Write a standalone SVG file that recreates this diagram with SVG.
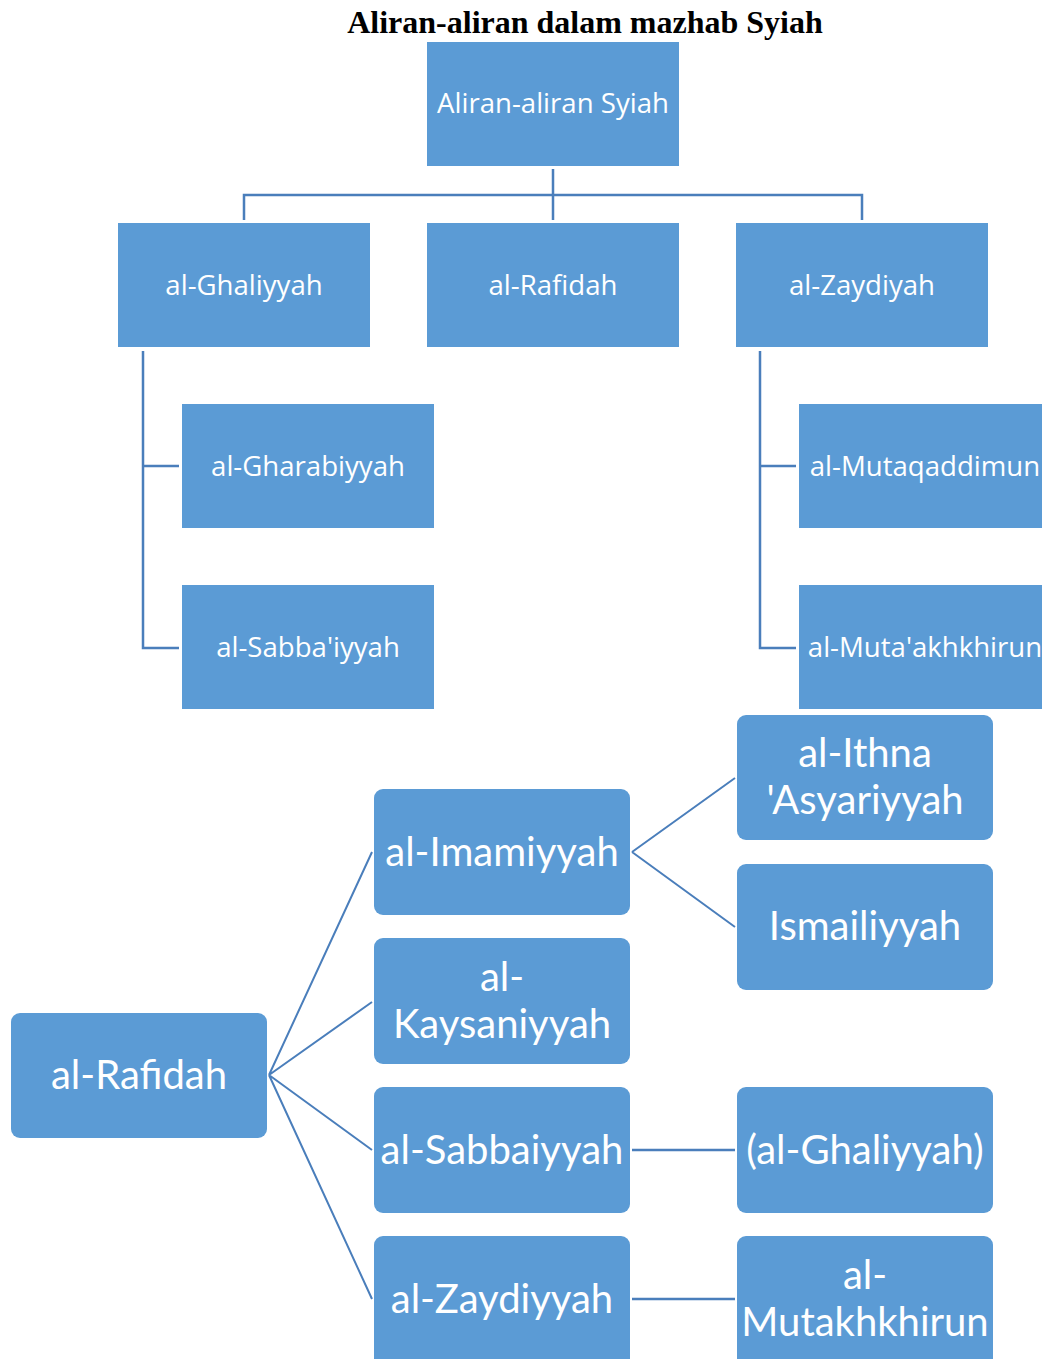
<svg xmlns="http://www.w3.org/2000/svg" width="1042" height="1359" viewBox="0 0 1042 1359">
<style>
.box{fill:#5B9BD5;}
.t1{font-family:"Open Sans",Lato,sans-serif;font-size:27.6px;fill:#fff;text-anchor:middle;}
.t2{font-family:Lato,"Open Sans",sans-serif;font-size:40px;fill:#fff;text-anchor:middle;}
.c{stroke:#4A7EBB;stroke-width:2.5;fill:none;}
.c2{stroke:#4A7EBB;stroke-width:2;fill:none;}
.title{font-family:"Liberation Serif",serif;font-weight:bold;font-size:32px;fill:#000;text-anchor:middle;}
</style>
<rect width="1042" height="1359" fill="#fff"/>
<text class="title" x="585" y="33">Aliran-aliran dalam mazhab Syiah</text>
<g id="connectors">
<path class="c" d="M553,169 V220 M244,220 V195 H862 V220"/>
<path class="c" d="M143,351 V648 H179 M143,466 H179"/>
<path class="c" d="M760,351 V648 H796 M760,466 H796"/>
<path class="c2" d="M269,1075 L372,852 M269,1075 L372,1002 M269,1075 L372,1150 M269,1075 L372,1299"/>
<path class="c2" d="M632,852 L735,778 M632,852 L735,927"/>
<path class="c" d="M632,1150 H735 M632,1299 H735"/>
</g>
<g id="n-root"><rect class="box" x="427" y="42" width="252" height="124"/><text class="t1" x="553" y="113">Aliran-aliran Syiah</text></g>
<g id="n-ghaliyyah"><rect class="box" x="118" y="223" width="252" height="124"/><text class="t1" x="244" y="295">al-Ghaliyyah</text></g>
<g id="n-rafidah"><rect class="box" x="427" y="223" width="252" height="124"/><text class="t1" x="553" y="295">al-Rafidah</text></g>
<g id="n-zaydiyah"><rect class="box" x="736" y="223" width="252" height="124"/><text class="t1" x="862" y="295">al-Zaydiyah</text></g>
<g id="n-gharabiyyah"><rect class="box" x="182" y="404" width="252" height="124"/><text class="t1" x="308" y="476">al-Gharabiyyah</text></g>
<g id="n-sabbaiyyah1"><rect class="box" x="182" y="585" width="252" height="124"/><text class="t1" x="308" y="657">al-Sabba'iyyah</text></g>
<g id="n-mutaqaddimun"><rect class="box" x="799" y="404" width="252" height="124"/><text class="t1" x="925" y="476">al-Mutaqaddimun</text></g>
<g id="n-mutaakhkhirun"><rect class="box" x="799" y="585" width="252" height="124"/><text class="t1" x="925" y="657">al-Muta'akhkhirun</text></g>
<g id="n-rafidah2"><rect class="box" x="11" y="1013" width="256" height="125" rx="9"/><text class="t2" x="139" y="1089">al-Rafidah</text></g>
<g id="n-imamiyyah"><rect class="box" x="374" y="789" width="256" height="126" rx="9"/><text class="t2" x="502" y="866">al-Imamiyyah</text></g>
<g id="n-kaysaniyyah"><rect class="box" x="374" y="938" width="256" height="126" rx="9"/><text class="t2" x="502" y="991">al-</text><text class="t2" x="502" y="1038">Kaysaniyyah</text></g>
<g id="n-sabbaiyyah2"><rect class="box" x="374" y="1087" width="256" height="126" rx="9"/><text class="t2" x="502" y="1164">al-Sabbaiyyah</text></g>
<g id="n-zaydiyyah2"><rect class="box" x="374" y="1236" width="256" height="132" rx="9"/><text class="t2" x="502" y="1313">al-Zaydiyyah</text></g>
<g id="n-ithna"><rect class="box" x="737" y="715" width="256" height="125" rx="9"/><text class="t2" x="865" y="767">al-Ithna</text><text class="t2" x="865" y="814">'Asyariyyah</text></g>
<g id="n-ismailiyyah"><rect class="box" x="737" y="864" width="256" height="126" rx="9"/><text class="t2" x="865" y="940">Ismailiyyah</text></g>
<g id="n-ghaliyyah2"><rect class="box" x="737" y="1087" width="256" height="126" rx="9"/><text class="t2" x="865" y="1164">(al-Ghaliyyah)</text></g>
<g id="n-mutakhkhirun"><rect class="box" x="737" y="1236" width="256" height="132" rx="9"/><text class="t2" x="865" y="1289">al-</text><text class="t2" x="865" y="1336">Mutakhkhirun</text></g>
</svg>
